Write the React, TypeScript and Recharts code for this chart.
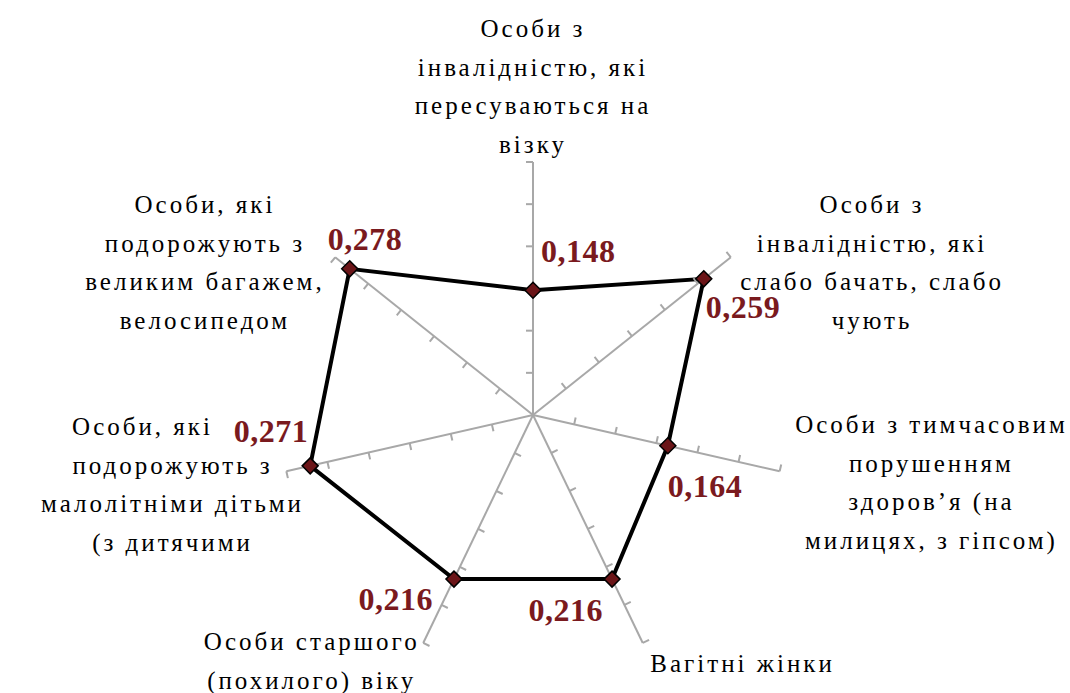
import { PolarAngleAxis, PolarRadiusAxis, Radar, RadarChart } from "recharts";

// категорії (рядки підпису так, як вони перенесені на рисунку)
const CATEGORY_LINES: string[][] = [
  ["Особи з", "інвалідністю, які", "пересуваються на", "візку"],
  ["Особи з", "інвалідністю, які", "слабо бачать, слабо", "чують"],
  ["Особи з тимчасовим", "порушенням", "здоров’я (на", "милицях, з гіпсом)"],
  ["Вагітні жінки"],
  ["Особи старшого", "(похилого) віку"],
  ["Особи, які", "подорожують з", "малолітніми дітьми", "(з дитячими"],
  ["Особи, які", "подорожують з", "великим багажем,", "велосипедом"],
];
const CATEGORIES = CATEGORY_LINES.map((lines) => lines.join(" "));
const VALUES = [0.148, 0.259, 0.164, 0.216, 0.216, 0.271, 0.278];
const AXIS_TICKS = [0, 0.05, 0.1, 0.15, 0.2, 0.25, 0.3];

const WIDTH = 1070;
const HEIGHT = 693;
const CX = 533;
const CY = 415;
const RADIUS = 253;

const GRID = "#a8a8a8";
const LINE = "#000000";
const DOT_FILL = "#6b1518";
const VALUE_COLOR = "#7a1a1e";
const FONT = '"Liberation Serif", "Times New Roman", serif';
const LINE_H = 38.5;
const TICK_LEN = 7;

// зсув підпису категорії від кінця осі: [dx, dy, anchor, зсув першого рядка]
const CATEGORY_OFFSETS: [number, number, "start" | "middle" | "end", number][] = [
  [0, -117, "middle", 0],
  [135, -39, "middle", 0],
  [144, -40, "middle", 0],
  [4, 22, "start", 0],
  [-108, 0, "middle", 0],
  [-106, -38, "middle", -30],
  [-124, -39, "middle", 0],
];

// зсув числового підпису від точки: [dx, dy, anchor]
const VALUE_OFFSETS: [number, number, "start" | "middle" | "end"][] = [
  [8, -28, "start"],
  [2, 39, "start"],
  [0, 51, "start"],
  [-9, 42, "end"],
  [-21, 31, "end"],
  [-2, -24, "end"],
  [-22, -19, "start"],
];

const chartData = CATEGORIES.map((name, i) => ({ name, value: VALUES[i] }));
const axisAngles = CATEGORIES.map((_, i) => 90 - (i * 360) / CATEGORIES.length);

function formatValue(value: number): string {
  return value.toFixed(3).replace(".", ",");
}

function CategoryTick(props: any) {
  const { x, y, payload } = props;
  const i = CATEGORIES.indexOf(payload.value);
  if (i < 0) return <g />;
  const [dx, dy, anchor, firstShift] = CATEGORY_OFFSETS[i];
  return (
    <text
      textAnchor={anchor}
      fill="#000"
      style={{ fontFamily: FONT, fontSize: 25, letterSpacing: "3px" }}
    >
      {CATEGORY_LINES[i].map((line, k) => (
        <tspan key={k} x={x + dx + (k === 0 ? firstShift : 0)} y={y + dy + k * LINE_H}>
          {line}
        </tspan>
      ))}
    </text>
  );
}

function makeRadiusTick(angle: number) {
  return (props: any) => {
    const { x, y, payload } = props;
    if (!payload || payload.value === 0) return <g />;
    const rad = (angle * Math.PI) / 180;
    const nx = -Math.sin(rad);
    const ny = -Math.cos(rad);
    return (
      <line
        x1={x}
        y1={y}
        x2={x + TICK_LEN * nx}
        y2={y + TICK_LEN * ny}
        stroke={GRID}
        strokeWidth={2}
      />
    );
  };
}

function DiamondDot(props: any) {
  const { cx, cy, index } = props;
  const s = 8;
  return (
    <path
      key={`dot-${index}`}
      d={`M${cx},${cy - s} L${cx + s},${cy} L${cx},${cy + s} L${cx - s},${cy} Z`}
      fill={DOT_FILL}
      stroke="#000"
      strokeWidth={1.5}
    />
  );
}

function ValueLabel(props: any) {
  const { x, y, value, index } = props;
  const [dx, dy, anchor] = VALUE_OFFSETS[index] ?? [0, 0, "middle"];
  return (
    <text
      x={x + dx}
      y={y + dy}
      textAnchor={anchor}
      fill={VALUE_COLOR}
      style={{ fontFamily: FONT, fontSize: 32, fontWeight: 700, letterSpacing: "0.5px" }}
    >
      {formatValue(Number(value))}
    </text>
  );
}

export default function App() {
  return (
    <div
      style={{
        position: "absolute",
        left: 0,
        top: 0,
        width: WIDTH,
        height: HEIGHT,
        background: "#fff",
      }}
    >
      <RadarChart
        width={WIDTH}
        height={HEIGHT}
        data={chartData}
        cx={CX}
        cy={CY}
        outerRadius={RADIUS}
        startAngle={90}
        endAngle={-270}
        margin={{ top: 0, right: 0, bottom: 0, left: 0 }}
      >
        <PolarAngleAxis
          dataKey="name"
          tick={CategoryTick}
          axisLine={false}
          tickLine={false}
        />
        {axisAngles.map((angle, i) => (
          <PolarRadiusAxis
            key={i}
            radiusAxisId={i}
            angle={angle}
            type="number"
            domain={[0, 0.3]}
            ticks={AXIS_TICKS}
            tickCount={AXIS_TICKS.length}
            stroke={GRID}
            axisLine={{ stroke: GRID, strokeWidth: 2 }}
            tick={makeRadiusTick(angle)}
          />
        ))}
        {/* невидимі ряди, щоб кожна вісь мала дані */}
        {axisAngles.slice(1).map((_, k) => (
          <Radar
            key={`axis-series-${k + 1}`}
            dataKey="value"
            radiusAxisId={k + 1}
            stroke="none"
            fill="none"
            fillOpacity={0}
            dot={false}
            legendType="none"
            isAnimationActive={false}
          />
        ))}
        <Radar
          dataKey="value"
          radiusAxisId={0}
          stroke={LINE}
          strokeWidth={4}
          fill="none"
          fillOpacity={0}
          dot={DiamondDot}
          label={ValueLabel}
          isAnimationActive={false}
        />
      </RadarChart>
    </div>
  );
}
